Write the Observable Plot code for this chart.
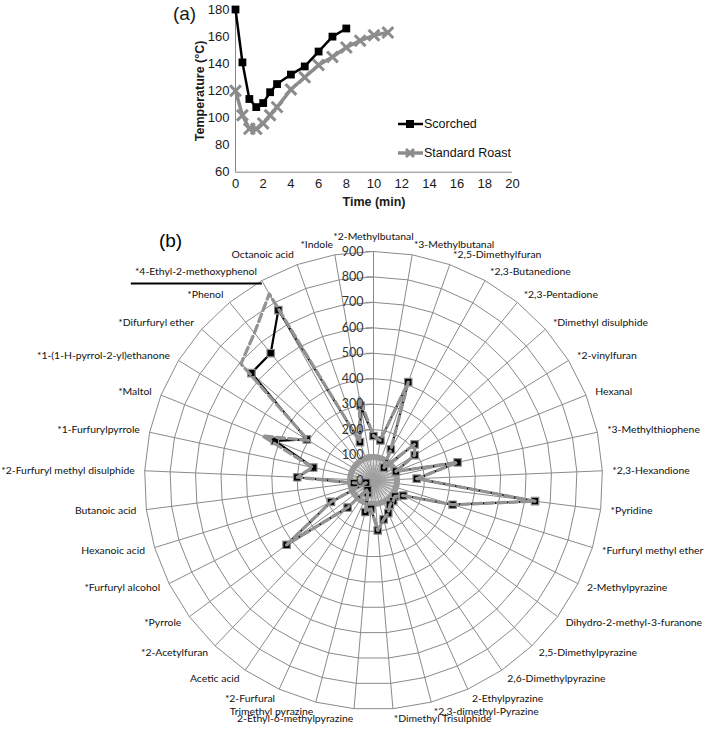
<!DOCTYPE html>
<html><head><meta charset="utf-8">
<script src="https://cdn.jsdelivr.net/npm/d3@7"></script>
<script src="https://cdn.jsdelivr.net/npm/@observablehq/plot@0.6"></script>
<style>
body{margin:0;background:#fff;}
#wrap{position:relative;width:707px;height:731px;overflow:hidden;font-family:"Liberation Sans",Arial,sans-serif;}
#wrap svg{position:absolute;left:0;}
.leg{position:absolute;font-size:12.5px;color:#111;line-height:14px;}
</style></head><body><div id="wrap"></div>
<script>
// ---------- Panel (a) data ----------
const timeScorched = [0, 0.5, 1, 1.5, 2, 2.5, 3, 4, 5, 6, 7, 8];
const tempScorched = [180, 141, 114, 108, 111, 119, 125, 132, 138, 149, 160, 166];
const timeStandard = [0, 0.5, 1, 1.5, 2, 2.5, 3, 4, 5, 6, 7, 8, 9, 10, 11];
const tempStandard = [120, 102, 92, 92, 96, 102, 108, 121, 130, 139, 145, 152, 157, 161, 163];
const timeTicks = [0, 2, 4, 6, 8, 10, 12, 14, 16, 18, 20];
const tempTicks = [60, 80, 100, 120, 140, 160, 180];
const seriesNames = ["Scorched", "Standard Roast"];

// ---------- Panel (b) data ----------
const compounds = [
  "*2-Methylbutanal", "*3-Methylbutanal", "*2,5-Dimethylfuran", "*2,3-Butanedione",
  "*2,3-Pentadione", "*Dimethyl disulphide", "*2-vinylfuran", "Hexanal",
  "*3-Methylthiophene", "*2,3-Hexandione", "*Pyridine", "*Furfuryl methyl ether",
  "2-Methylpyrazine", "Dihydro-2-methyl-3-furanone", "2,5-Dimethylpyrazine",
  "2,6-Dimethylpyrazine", "2-Ethylpyrazine", "*2,3-dimethyl-Pyrazine",
  "*Dimethyl Trisulphide", "2-Ethyl-6-methylpyrazine", "Trimethyl pyrazine",
  "*2-Furfural", "Acetic acid", "*2-Acetylfuran", "*Pyrrole", "*Furfuryl alcohol",
  "Hexanoic acid", "Butanoic acid", "*2-Furfuryl methyl disulphide",
  "*1-Furfurylpyrrole", "*Maltol", "*1-(1-H-pyrrol-2-yl)ethanone",
  "*Difurfuryl ether", "*Phenol", "*4-Ethyl-2-methoxyphenol", "Octanoic acid", "*Indole"
];
const scorchedValues = [175, 160, 410, 140, 65, 215, 190, 95, 338, 170, 640, 325,
  131, 105, 112, 115, 141, 158, 197, 112, 128, 55, 41, 147, 425, 187, 30, 78,
  300, 242, 418, 308, 639, 643, 767, 160, 298];
const standardValues = [175, 160, 410, 140, 65, 215, 190, 95, 338, 170, 640, 325,
  131, 105, 112, 115, 141, 158, 197, 112, 128, 55, 41, 147, 425, 187, 30, 78,
  300, 245, 470, 300, 694, 745, 840, 160, 330];
const radialTicks = [0, 100, 200, 300, 400, 500, 600, 700, 800, 900];

const wrap = document.getElementById("wrap");

// ---------- Panel (a) ----------
const scorchedRows = timeScorched.map((t, i) => ({t, v: tempScorched[i]}));
const standardRows = timeStandard.map((t, i) => ({t, v: tempStandard[i]}));
const topH = 212;
const chartA = Plot.plot({
  width: 707, height: topH,
  marginLeft: 235, marginRight: 195, marginTop: 9, marginBottom: 40.3,
  style: {fontFamily: "Liberation Sans, Arial, sans-serif", fontSize: "13px", color: "#1a1a1a", background: "transparent", overflow: "visible"},
  x: {domain: [0, 20]},
  y: {domain: [60, 180]},
  marks: [
    Plot.ruleX([0], {stroke: "#868686", strokeWidth: 1}),
    Plot.ruleY([60], {stroke: "#868686", strokeWidth: 1}),
    Plot.axisX({ticks: timeTicks, tickSize: 0, tickPadding: 7, label: null}),
    Plot.axisY({ticks: tempTicks, tickSize: 0, tickPadding: 6, label: null}),
    Plot.line(standardRows, {x: "t", y: "v", stroke: "#8c8c8c", strokeWidth: 3.5}),
    Plot.dot(standardRows, {x: "t", y: "v", symbol: "times", r: 5, stroke: "#8c8c8c", strokeWidth: 3}),
    Plot.line(scorchedRows, {x: "t", y: "v", stroke: "#000", strokeWidth: 2.5}),
    Plot.dot(scorchedRows, {x: "t", y: "v", symbol: "square", r: 4.4, fill: "#000"}),
    Plot.text(["Temperature (°C)"], {frameAnchor: "left", dx: -36, rotate: -90, textAnchor: "middle", lineAnchor: "middle", fontWeight: "bold", fontSize: 12.5}),
    Plot.text(["Time (min)"], {frameAnchor: "bottom", dy: 30, textAnchor: "middle", lineAnchor: "middle", fontWeight: "bold", fontSize: 12.5}),
    Plot.text(["(a)"], {frameAnchor: "top-left", dx: -51, dy: 4, textAnchor: "middle", lineAnchor: "middle", fontSize: 19})
  ]
});
chartA.style.top = "0px";
wrap.appendChild(chartA);

// legend (HTML)
function legendItem(name, top, color, sym) {
  const d = document.createElement("div");
  d.className = "leg";
  d.style.left = "398px"; d.style.top = (top - 8) + "px";
  const marker = sym === "square"
    ? `<rect x="8" y="4" width="8" height="8" fill="${color}"/>`
    : `<path d="M8,4L16,12M16,4L8,12" stroke="${color}" stroke-width="3"/>`;
  const w = sym === "square" ? 2.5 : 3.5;
  d.innerHTML = `<svg width="25" height="16" style="position:static;vertical-align:middle"><line x1="0" x2="25" y1="8" y2="8" stroke="${color}" stroke-width="${w}"/>${marker}</svg><span style="vertical-align:middle;margin-left:1px">${name}</span>`;
  wrap.appendChild(d);
}
legendItem(seriesNames[0], 124, "#000", "square");
legendItem(seriesNames[1], 153, "#8c8c8c", "times");

// ---------- Panel (b) radar ----------
const N = compounds.length;
const PX = 229 / 900;               // pixels per unit
const cx = 373, cy = 480 - topH;    // centre in local svg coords
const ang = i => i * 2 * Math.PI / N;
const pol = (v, i) => [v * Math.sin(ang(i)), v * Math.cos(ang(i))];

const ringRows = radialTicks.slice(1).flatMap(v =>
  d3.range(N + 1).map(i => ({ring: v, x: pol(v, i % N)[0], y: pol(v, i % N)[1]})));
const spokeRows = compounds.map((c, i) => ({x: pol(900, i)[0], y: pol(900, i)[1]}));
const toPts = vals => vals.map((v, i) => ({name: compounds[i], v, x: pol(v, i)[0], y: pol(v, i)[1]}));
const scorchedPts = toPts(scorchedValues);
const standardPts = toPts(standardValues);

const labR = 239 / PX;
const labelRows = compounds.map((c, i) => {
  const s = Math.sin(ang(i));
  return {c, i, x: labR * s, y: labR * Math.cos(ang(i)), side: i === 0 ? "top" : (s > 0 ? "right" : "left")};
});
const innerRays = d3.range(72).map(k => ({x: 82 * Math.sin(k * Math.PI / 36), y: 82 * Math.cos(k * Math.PI / 36)}));
const leader = pol(900, compounds.indexOf("*4-Ethyl-2-methoxyphenol"));

const labelFont = "Lato, 'Open Sans', sans-serif";
const labelSize = 10.4;
const labelFill = "#111";
const chartB = Plot.plot({
  width: 707, height: 731 - topH,
  margin: 0,
  style: {fontFamily: labelFont, background: "transparent", overflow: "visible"},
  x: {type: "linear", domain: [-900, 900], range: [cx - 229, cx + 229], axis: null},
  y: {type: "linear", domain: [-900, 900], range: [cy + 229, cy - 229], axis: null},
  marks: [
    Plot.line(ringRows, {x: "x", y: "y", z: "ring", stroke: "#8a8a8a", strokeWidth: 1}),
    Plot.link(spokeRows, {x1: 0, y1: 0, x2: "x", y2: "y", stroke: "#8a8a8a", strokeWidth: 1}),
    Plot.link(radialTicks, {x1: -8 / PX, x2: 0, y1: d => d, y2: d => d, stroke: "#8a8a8a", strokeWidth: 1}),
    Plot.link(innerRays, {x1: 0, y1: 0, x2: "x", y2: "y", stroke: "#a0a0a0", strokeWidth: 0.8}),
    Plot.dot([0], {x: () => 0, y: () => 0, r: 23.5, fill: "none", stroke: "#999", strokeWidth: 6}),
    Plot.link([0], {x1: leader[0], y1: leader[1], x2: leader[0] - 131 / PX, y2: leader[1], dy: 3, stroke: "#000", strokeWidth: 2}),
    Plot.line(scorchedPts, {x: "x", y: "y", curve: "linear-closed", stroke: "#000", strokeWidth: 2.2}),
    Plot.dot(scorchedPts, {x: "x", y: "y", symbol: "square", r: 4.2, fill: "#000", stroke: "#8c8c8c", strokeWidth: 1.2}),
    Plot.line(standardPts, {x: "x", y: "y", curve: "linear-closed", stroke: "#939393", strokeWidth: 3.2, strokeDasharray: "8,4"}),
    Plot.text(radialTicks, {x: 0, y: d => d, dx: -10, textAnchor: "end", text: d => String(d), fill: "#333", fontSize: 12.5}),
    Plot.text(labelRows.filter(d => d.side === "right"), {x: "x", y: "y", text: "c", textAnchor: "start", lineAnchor: "middle", fontSize: labelSize, fill: labelFill}),
    Plot.text(labelRows.filter(d => d.side === "left"), {x: "x", y: "y", text: "c", textAnchor: "end", lineAnchor: "middle", fontSize: labelSize, fill: labelFill}),
    Plot.text(labelRows.filter(d => d.side === "top"), {x: "x", y: "y", dy: -2, text: "c", textAnchor: "middle", lineAnchor: "bottom", fontSize: labelSize, fill: labelFill}),
    Plot.text(["(b)"], {frameAnchor: "top-left", dx: 170, dy: 28, textAnchor: "middle", lineAnchor: "middle", fontSize: 19, fontFamily: "Liberation Sans, Arial, sans-serif"})
  ]
});
chartB.style.top = topH + "px";
wrap.appendChild(chartB);
</script>
</body></html>
